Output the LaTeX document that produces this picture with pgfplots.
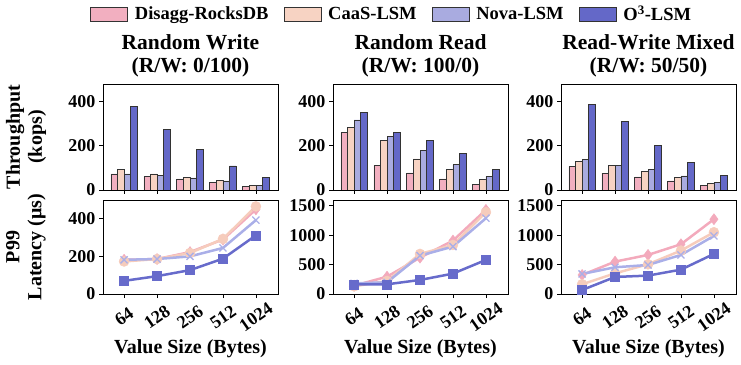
\documentclass[border=0pt]{standalone}
\usepackage{pgfplots}
\pgfplotsset{compat=1.18}
\usepackage{fontspec}
\setmainfont{Liberation Serif}
\definecolor{cA}{HTML}{F2AFC0}
\definecolor{cB}{HTML}{F7D3C3}
\definecolor{cC}{HTML}{A9ABE0}
\definecolor{cD}{HTML}{6468C8}
\definecolor{lA}{HTML}{F3AABC}
\definecolor{lB}{HTML}{F6CCBC}
\definecolor{lC}{HTML}{AAAFE8}
\definecolor{lD}{HTML}{676BCB}
\pgfplotsset{
  base/.style={scale only axis, width=175pt, xmin=-0.64, xmax=4.67, ymin=0,
    xtick={0,1,2,3,4}, tick align=outside, xtick pos=bottom, ytick pos=left,
    major tick length=4pt, axis line style={line width=0.8pt},
    every tick/.style={line width=0.8pt, black},
    /pgf/number format/assume math mode=true,
    /pgf/number format/1000 sep={},
    tick label style={font=\bfseries\fontsize{18}{18}\selectfont},
    title style={at={(0.5,1)}, anchor=south, yshift=-3pt, align=center,
      font=\bfseries\fontsize{21.5}{23}\selectfont},
    ylabel style={at={(rel axis cs:-0.44,0.5)}, anchor=center, align=center,
      font=\bfseries\fontsize{20}{22}\selectfont},
    xlabel style={at={(rel axis cs:0.5,-0.58)}, anchor=center,
      font=\bfseries\fontsize{20}{22}\selectfont},
  },
  bars/.style={base, height=106pt, ymax=480, ybar=0pt, bar width=0.2,
    xticklabels={}, ytick={0,200,400}},
  lat/.style={base, height=94pt, xticklabels={64,128,256,512,1024},
    xticklabel style={yshift=-19pt, rotate=35, anchor=center},
    xlabel={Value Size (Bytes)}},
  bA/.style={fill=cA, draw=black!80, line width=0.7pt},
  bB/.style={fill=cB, draw=black!80, line width=0.7pt},
  bC/.style={fill=cC, draw=black!80, line width=0.7pt},
  bD/.style={fill=cD, draw=black!80, line width=0.7pt},
  pA/.style={color=lA, line width=2.5pt, mark=diamond*, mark size=5.5pt, mark options={solid, fill=lA, draw=lA, line width=0.5pt}},
  pB/.style={color=lB, line width=2.5pt, mark=*, mark size=5pt, mark options={solid, fill=lB, draw=lB, line width=0.5pt}},
  pC/.style={color=lC, line width=2.5pt, mark=x, mark size=5pt, mark options={solid, draw=lC, line width=1.3pt}},
  pD/.style={color=lD, line width=2.5pt, mark=square*, mark size=4.5pt, mark options={solid, fill=lD, draw=lD, line width=0.5pt}},
}
\begin{document}
\begin{tikzpicture}
\useasboundingbox (0,0) rectangle (741pt,364pt);
% ---------- throughput ----------
\begin{axis}[bars, at={(103pt,174pt)}, anchor=south west,
  title={Random Write\\(R/W: 0/100)}, ylabel={Throughput\\(kops)}]
\addplot[bA] coordinates {(0,73) (1,61) (2,50) (3,33) (4,17)};
\addplot[bB] coordinates {(0,94) (1,73) (2,58) (3,42) (4,21)};
\addplot[bC] coordinates {(0,73) (1,65) (2,55) (3,41) (4,20)};
\addplot[bD] coordinates {(0,379) (1,273) (2,185) (3,109) (4,58)};
\end{axis}
\begin{axis}[bars, at={(333pt,174pt)}, anchor=south west,
  title={Random Read\\(R/W: 100/0)},
  legend style={at={(rel axis cs:0.335,1.66)}, anchor=center, draw=none,
    font=\bfseries\fontsize{18.5}{20}\selectfont, legend columns=4,
    /tikz/every odd column/.append style={column sep=5pt},
    /tikz/every even column/.append style={column sep=13pt}},
  legend image code/.code={\draw[#1] (0pt,-7pt) rectangle (37pt,7pt);}]
\addplot[bA] coordinates {(0,261) (1,112) (2,77) (3,50) (4,26)};
\addplot[bB] coordinates {(0,283) (1,226) (2,141) (3,94) (4,48)};
\addplot[bC] coordinates {(0,317) (1,242) (2,180) (3,114) (4,61)};
\addplot[bD] coordinates {(0,353) (1,262) (2,223) (3,165) (4,94)};
\legend{Disagg-RocksDB, CaaS-LSM, Nova-LSM, O\textsuperscript{3}-LSM}
\end{axis}
\begin{axis}[bars, at={(561pt,174pt)}, anchor=south west,
  title={Read-Write Mixed\\(R/W: 50/50)}]
\addplot[bA] coordinates {(0,106) (1,76) (2,59) (3,41) (4,21)};
\addplot[bB] coordinates {(0,130) (1,112) (2,85) (3,58) (4,30)};
\addplot[bC] coordinates {(0,139) (1,111) (2,92) (3,64) (4,35)};
\addplot[bD] coordinates {(0,389) (1,311) (2,202) (3,126) (4,67)};
\end{axis}
% ---------- latency ----------
\begin{axis}[lat, at={(103pt,70pt)}, anchor=south west, ymax=500,
  ytick={0,200,400}, ylabel={P99\\Latency (μs)}]
\addplot[pA] coordinates {(0,182) (1,186) (2,223) (3,290) (4,450)};
\addplot[pB] coordinates {(0,173) (1,186) (2,218) (3,293) (4,466)};
\addplot[pC] coordinates {(0,182) (1,186) (2,200) (3,245) (4,393)};
\addplot[pD] coordinates {(0,70) (1,95) (2,127) (3,188) (4,312)};
\end{axis}
\begin{axis}[lat, at={(333pt,70pt)}, anchor=south west, ymax=1600,
  ytick={0,500,1000,1500}]
\addplot[pA] coordinates {(0,142) (1,295) (2,619) (3,909) (4,1432)};
\addplot[pB] coordinates {(0,131) (1,222) (2,682) (3,835) (4,1392)};
\addplot[pC] coordinates {(0,182) (1,199) (2,653) (3,807) (4,1290)};
\addplot[pD] coordinates {(0,165) (1,165) (2,239) (3,347) (4,580)};
\end{axis}
\begin{axis}[lat, at={(561pt,70pt)}, anchor=south west, ymax=1600,
  ytick={0,500,1000,1500}]
\addplot[pA] coordinates {(0,324) (1,551) (2,665) (3,847) (4,1273)};
\addplot[pB] coordinates {(0,165) (1,352) (2,506) (3,739) (4,1051)};
\addplot[pC] coordinates {(0,341) (1,455) (2,494) (3,665) (4,989)};
\addplot[pD] coordinates {(0,68) (1,290) (2,313) (3,415) (4,682)};
\end{axis}
\end{tikzpicture}
\end{document}
